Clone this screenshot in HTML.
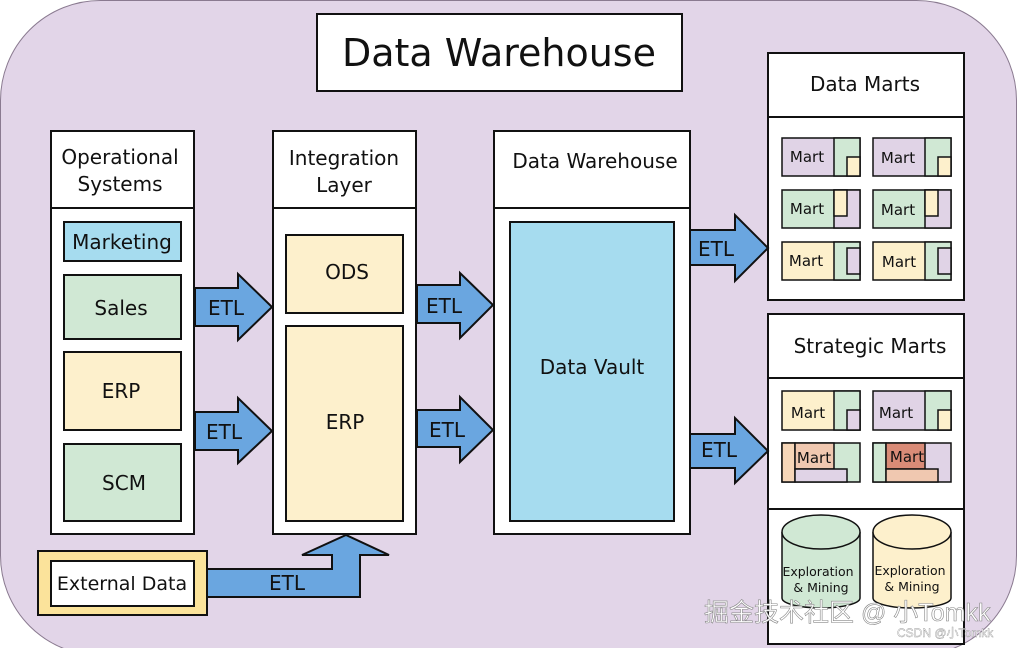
<!DOCTYPE html>
<html><head><meta charset="utf-8"><style>
html,body{margin:0;padding:0;background:#fff;width:1017px;height:648px;overflow:hidden;}
svg{display:block;font-family:"DejaVu Sans","Liberation Sans",sans-serif;}
</style></head><body>
<svg width="1017" height="648" viewBox="0 0 1017 648" xmlns="http://www.w3.org/2000/svg">
<rect x="0.5" y="0.5" width="1016" height="655" rx="100" fill="#e2d5e8" stroke="#8a7a90"/>
<g stroke="#111" stroke-width="2">
<rect x="317" y="14" width="365" height="77" fill="#fff"/>
<rect x="51" y="131" width="143" height="403" fill="#fff"/><line x1="51" y1="208" x2="194" y2="208"/>
<rect x="273" y="131" width="143" height="403" fill="#fff"/><line x1="273" y1="208" x2="416" y2="208"/>
<rect x="494" y="131" width="196" height="403" fill="#fff"/><line x1="494" y1="208" x2="690" y2="208"/>
<rect x="768" y="53" width="196" height="247" fill="#fff"/><line x1="768" y1="117" x2="964" y2="117"/>
<rect x="768" y="314" width="196" height="330" fill="#fff"/><line x1="768" y1="378" x2="964" y2="378"/><line x1="768" y1="509" x2="964" y2="509"/>
<rect x="64" y="222" width="117" height="39" fill="#a6dcef"/>
<rect x="64" y="275" width="117" height="64" fill="#d0e8d4"/>
<rect x="64" y="352" width="117" height="78" fill="#fdf0cc"/>
<rect x="64" y="444" width="117" height="77" fill="#d0e8d4"/>
<rect x="286" y="235" width="117" height="78" fill="#fdf0cc"/>
<rect x="286" y="326" width="117" height="195" fill="#fdf0cc"/>
<rect x="510" y="222" width="164" height="299" fill="#a6dcef"/>
<rect x="38" y="551" width="169" height="64" fill="#fbe39b"/>
<rect x="51" y="561" width="143" height="45" fill="#fff"/>
</g>
<g fill="#6aa6e0" stroke="#111" stroke-width="2">
<polygon points="195,288 238,288 238,274 272,307 238,340 238,326 195,326"/>
<polygon points="195,412 238,412 238,398 272,431 238,463 238,450 195,450"/>
<polygon points="417,285 460,285 460,273 493,305 460,338 460,323 417,323"/>
<polygon points="417,410 460,410 460,397 493,430 460,462 460,447 417,447"/>
<polygon points="690,230 735,230 735,215 768,248 735,281 735,265 690,265"/>
<polygon points="690,434 735,434 735,418 768,451 735,483 735,468 690,468"/>
<polygon points="207,569 332,569 332,555 302,555 346,535 389,555 360,555 360,597 207,597"/>
</g>
<g stroke="#111" stroke-width="1.5">
<g transform="translate(782,138)"><rect width="78" height="38" fill="#e0d3e6"/><rect x="52" width="26" height="38" fill="#d0e8d4"/><rect x="65" y="19" width="13" height="19" fill="#fdf0cc"/></g>
<g transform="translate(873,138)"><rect width="78" height="38" fill="#e0d3e6"/><rect x="52" width="26" height="38" fill="#d0e8d4"/><rect x="65" y="19" width="13" height="19" fill="#fdf0cc"/></g>
<g transform="translate(782,190)"><rect width="78" height="38" fill="#d0e8d4"/><rect x="52" width="26" height="38" fill="#e0d3e6"/><rect x="52" width="13" height="26" fill="#fdf0cc"/></g>
<g transform="translate(873,190)"><rect width="78" height="38" fill="#d0e8d4"/><rect x="52" width="26" height="38" fill="#e0d3e6"/><rect x="52" width="13" height="26" fill="#fdf0cc"/></g>
<g transform="translate(782,242)"><rect width="78" height="38" fill="#fdf0cc"/><rect x="52" width="26" height="38" fill="#d0e8d4"/><rect x="65" y="6" width="13" height="26" fill="#e0d3e6"/></g>
<g transform="translate(873,242)"><rect width="78" height="38" fill="#fdf0cc"/><rect x="52" width="26" height="38" fill="#d0e8d4"/><rect x="65" y="6" width="13" height="26" fill="#e0d3e6"/></g>
<g transform="translate(782,391)"><rect width="78" height="39" fill="#fdf0cc"/><rect x="52" width="26" height="39" fill="#d0e8d4"/><rect x="65" y="19" width="13" height="20" fill="#e0d3e6"/></g>
<g transform="translate(873,391)"><rect width="78" height="39" fill="#e0d3e6"/><rect x="52" width="26" height="39" fill="#d0e8d4"/><rect x="65" y="19" width="13" height="20" fill="#fdf0cc"/></g>
<g transform="translate(782,443)"><rect width="78" height="39" fill="#d0e8d4"/><rect width="13" height="39" fill="#f6d6b8"/><rect x="13" width="39" height="26" fill="#f0c8b0"/><rect x="13" y="26" width="52" height="13" fill="#e0d3e6"/></g>
<g transform="translate(873,443)"><rect width="78" height="39" fill="#e0d3e6"/><rect width="13" height="39" fill="#d0e8d4"/><rect x="13" width="39" height="26" fill="#d98b77"/><rect x="13" y="26" width="52" height="13" fill="#f0c8b0"/></g>
<g fill="#d0e8d4"><path d="M782,532 V598 A39,10 0 0 0 860,598 V532"/><ellipse cx="821" cy="532" rx="39" ry="17"/></g>
<g fill="#fdf0cc"><path d="M873,532 V598 A39,10 0 0 0 951,598 V532"/><ellipse cx="912" cy="532" rx="39" ry="17"/></g>
</g>
<g fill="#111" text-anchor="middle">
<text x="499" y="66" font-size="38">Data Warehouse</text>
<text x="865" y="91" font-size="20">Data Marts</text>
<text x="870" y="353" font-size="20">Strategic Marts</text>
<text x="120" y="164" font-size="20">Operational</text><text x="120" y="191" font-size="20">Systems</text>
<text x="344" y="165" font-size="20">Integration</text><text x="344" y="192" font-size="20">Layer</text>
<text x="595" y="168" font-size="20">Data Warehouse</text>
<text x="122" y="249" font-size="20">Marketing</text>
<text x="121" y="315" font-size="20">Sales</text>
<text x="121" y="398" font-size="20">ERP</text>
<text x="124" y="490" font-size="20">SCM</text>
<text x="347" y="279" font-size="20">ODS</text>
<text x="345" y="429" font-size="20">ERP</text>
<text x="592" y="374" font-size="20">Data Vault</text>
<text x="122" y="590" font-size="19">External Data</text>
<g font-size="20"><text x="226" y="315">ETL</text><text x="224" y="439">ETL</text><text x="444" y="313">ETL</text><text x="447" y="437">ETL</text><text x="716" y="256">ETL</text><text x="719" y="457">ETL</text><text x="287" y="590">ETL</text></g>
<g font-size="15"><text x="807" y="162">Mart</text><text x="898" y="163">Mart</text><text x="807" y="214">Mart</text><text x="898" y="215">Mart</text><text x="806" y="266">Mart</text><text x="899" y="267">Mart</text>
<text x="808" y="418">Mart</text><text x="896" y="418">Mart</text><text x="814" y="463">Mart</text><text x="907" y="462">Mart</text></g>
<g font-size="12.5"><text x="818" y="576">Exploration</text><text x="821" y="592">&amp; Mining</text><text x="910" y="575">Exploration</text><text x="912" y="591">&amp; Mining</text></g>
</g>
<text x="704" y="621" font-size="25" fill="#fff" stroke="#888" stroke-width="0.6" font-family="'Liberation Sans','Noto Sans CJK SC',sans-serif">掘金技术社区 @ 小Tomkk</text>
<text x="897" y="637" font-size="12" fill="#fff" stroke="#999" stroke-width="0.4" font-family="'Liberation Sans','Noto Sans CJK SC',sans-serif">CSDN @小Tomkk</text>
</svg>
</body></html>
